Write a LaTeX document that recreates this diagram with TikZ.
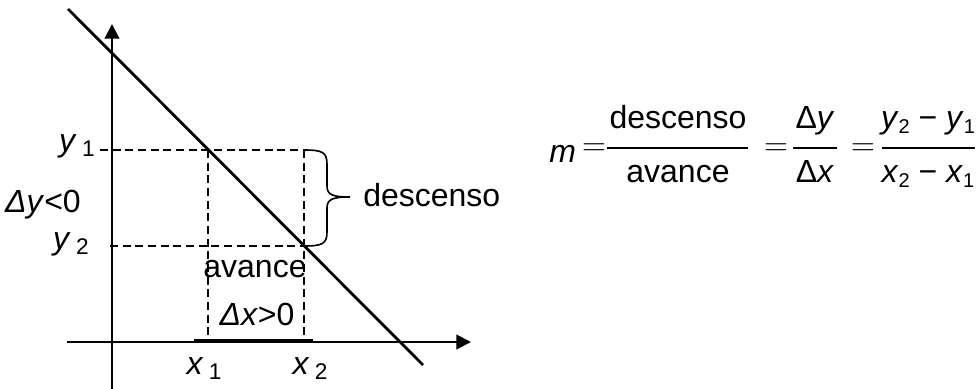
\documentclass[tikz,border=0pt]{standalone}
\usepackage{fontspec}
\setmainfont{Liberation Sans}
\usetikzlibrary{arrows.meta}
\newcommand\lsub[1]{\,\raisebox{-0.3ex}{\fontsize{17}{17}\selectfont#1}}
\newcommand\fsub[1]{\raisebox{-0.35ex}{\fontsize{15}{15}\selectfont#1}}
\tikzset{
  axis/.style={line width=1.5pt,-{Triangle[length=11pt,width=11pt]}},
  guide/.style={line width=1pt,dash pattern=on 6pt off 3.5pt},
  lbl/.style={font=\fontsize{24}{28}\selectfont,inner sep=0pt,anchor=base},
  fracbar/.style={line width=1.1pt},
}
\begin{document}
\begin{tikzpicture}[x=0.75pt,y=-0.75pt]
\useasboundingbox (0,0) rectangle (978,389);

% points on the line
\coordinate (p1) at (208,150);
\coordinate (p2) at (304,246);
\coordinate (q1) at (304,150);
\coordinate (o)  at (112,342);

% dashed guides
\draw[guide] (100,150) -- (q1);
\draw[guide] (110,246) -- (p2);
\draw[guide] (p1) -- (208,342);
\draw[guide] (q1) -- (304,342);

% axes
\draw[axis] (112,389) -- (112,24);
\draw[axis] (67,342) -- (471,342);
\draw[line width=2.4pt] (194,341) -- (313,341);

% the line
\draw[line width=2.1pt] (68,9) -- (423,365);

% brace
\draw[line width=1.2pt] (q1) .. controls (322,150) and (327,152) .. (327,164)
  -- (327,186) .. controls (327,195) and (333,197) .. (350,197)
  .. controls (333,197) and (327,199) .. (327,208)
  -- (327,232) .. controls (327,244) and (322,246) .. (p2);

% labels
\node[lbl] (ly1) at (77,151) {\textit{y}\lsub{1}};
\node[lbl] (ly2) at (71,249) {\textit{y}\lsub{2}};
\node[lbl] (ldy) at (43,212) {\textit{Δy}<0};
\node[lbl] (lav) at (255,277) {avance};
\node[lbl] (ldx) at (257,325) {\textit{Δx}>0};
\node[lbl] (lx1) at (204,374) {\textit{x}\lsub{1}};
\node[lbl] (lx2) at (310,374) {\textit{x}\lsub{2}};
\node[lbl,anchor=base west] (lds) at (363,206) {descenso};

% slope formula
\node[lbl,anchor=base west] (fm) at (549,162) {\textit{m}};
\node[lbl,anchor=center] (fe1) at (594,150) {$=$};
\draw[fracbar] (607,148) -- (748,148);
\node[lbl] (fn1) at (678,128) {descenso};
\node[lbl] (fd1) at (678,182) {avance};
\node[lbl,anchor=center] (fe2) at (776,150) {$=$};
\draw[fracbar] (793,148) -- (837,148);
\node[lbl] (fn2) at (815,128) {Δ\textit{y}};
\node[lbl] (fd2) at (815,182) {Δ\textit{x}};
\node[lbl,anchor=center] (fe3) at (863,150) {$=$};
\draw[fracbar] (882,148) -- (975,148);
\node[lbl] (fn3) at (928,128) {\textit{y}\fsub{2}\;−\;\textit{y}\fsub{1}};
\node[lbl] (fd3) at (928,182) {\textit{x}\fsub{2}\;−\;\textit{x}\fsub{1}};
\end{tikzpicture}
\end{document}
